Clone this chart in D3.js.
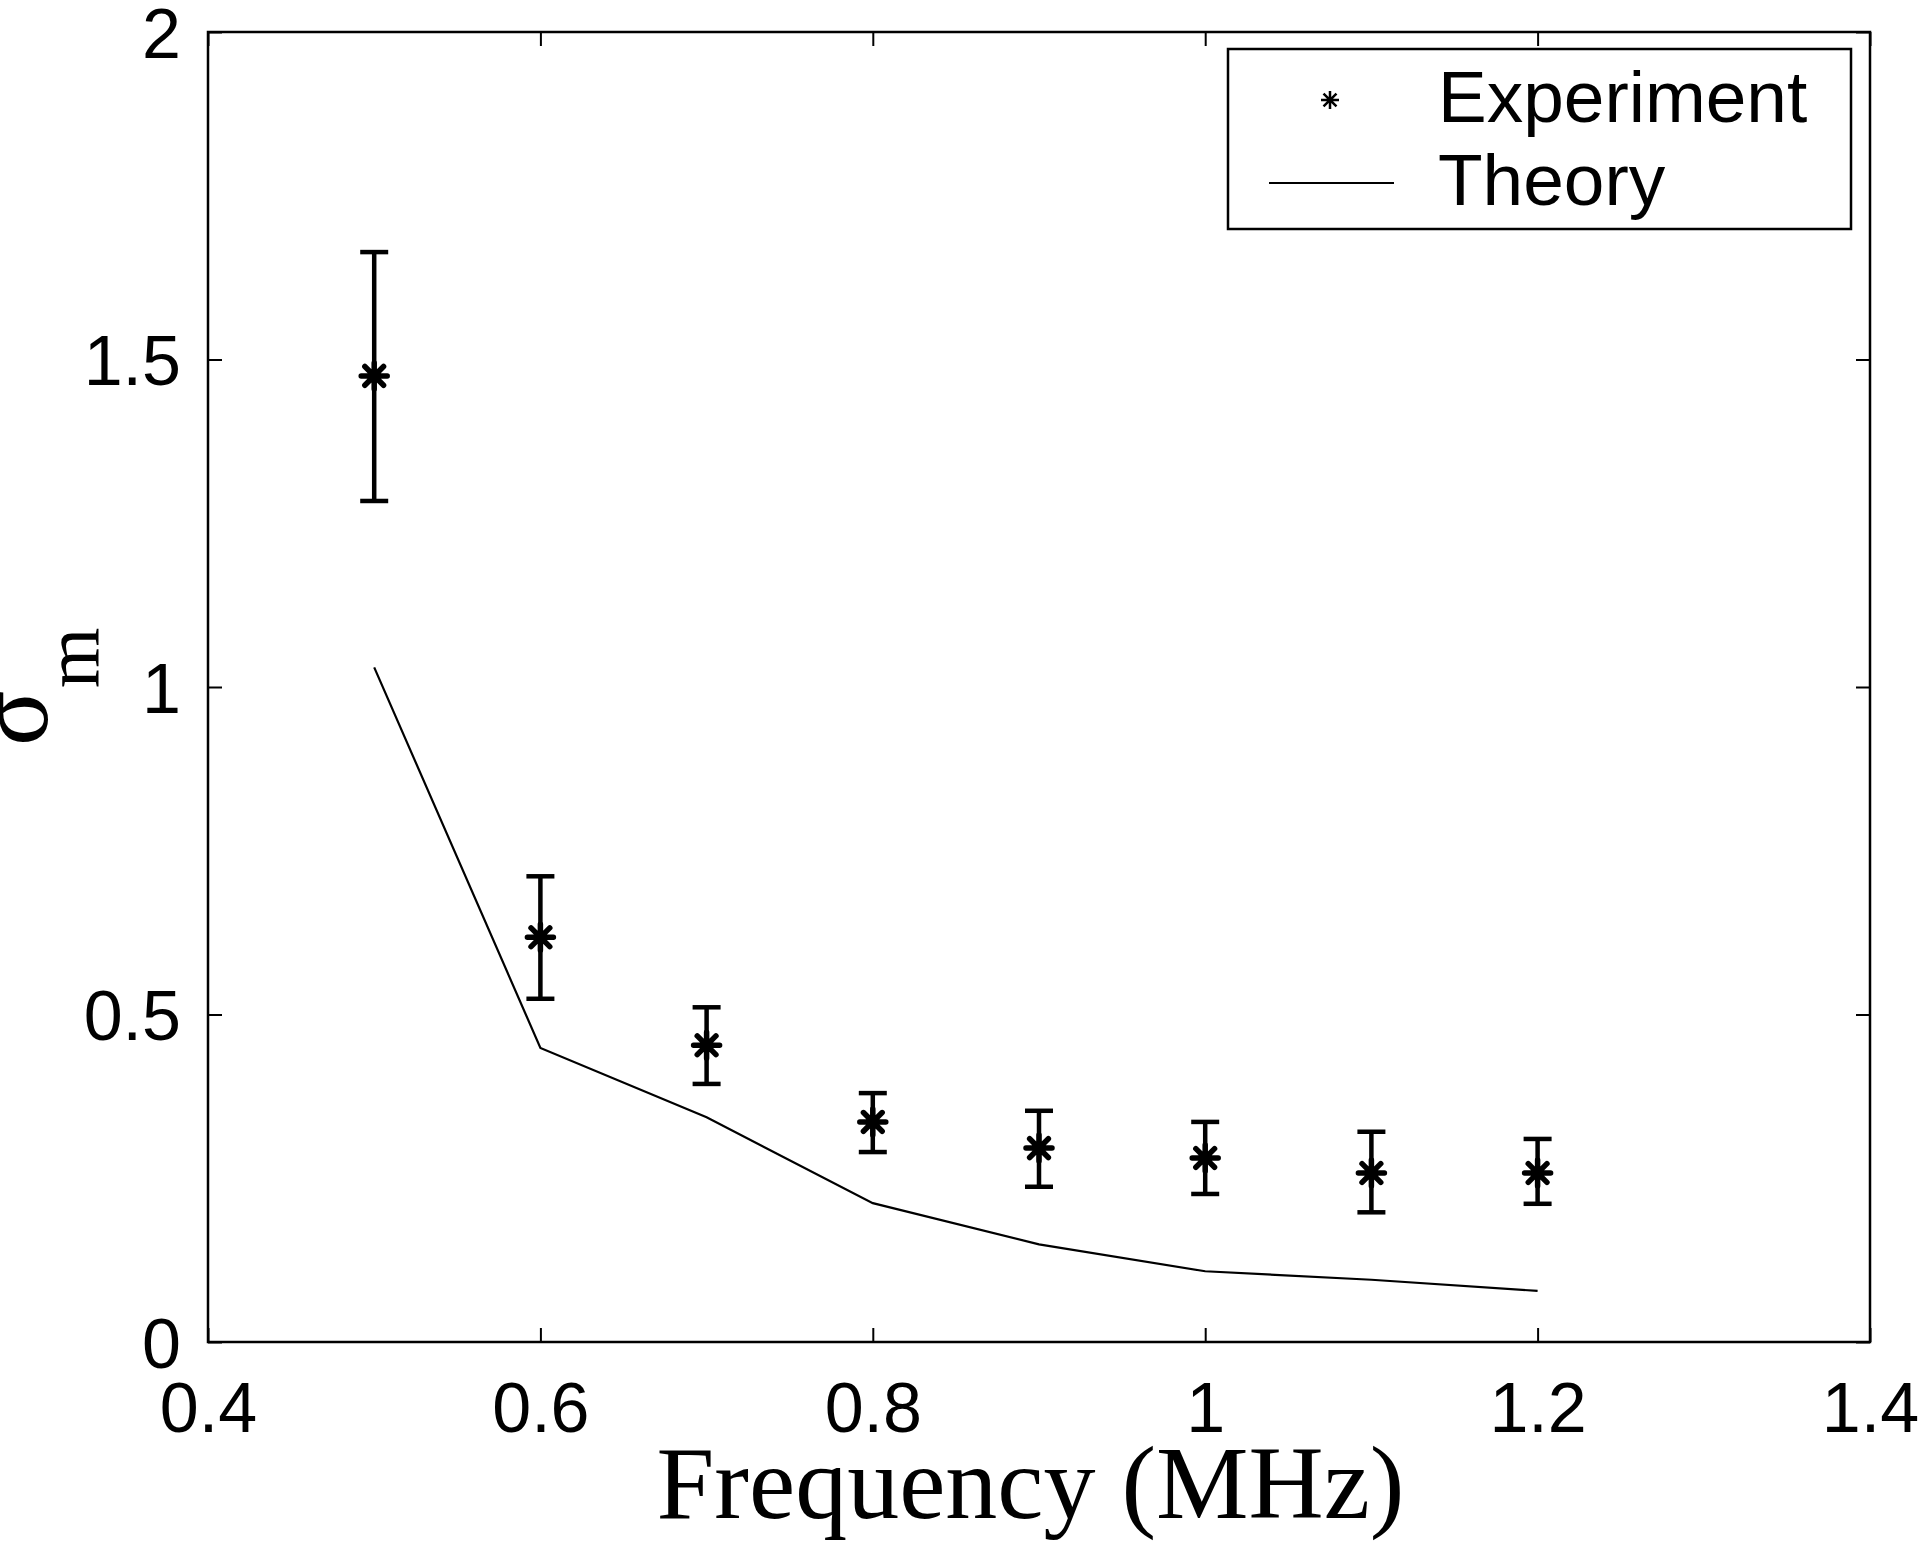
<!DOCTYPE html>
<html><head><meta charset="utf-8">
<script src="https://cdn.jsdelivr.net/npm/d3@7"></script>
<style>body{margin:0;background:#fff}svg{display:block}</style>
</head><body>
<script>
const frequency = [0.5, 0.6, 0.7, 0.8, 0.9, 1.0, 1.1, 1.2];
const expMean  = [1.475, 0.618, 0.453, 0.336, 0.296, 0.281, 0.258, 0.258];
const expUpper = [1.664, 0.711, 0.511, 0.380, 0.353, 0.336, 0.321, 0.310];
const expLower = [1.284, 0.524, 0.394, 0.290, 0.237, 0.226, 0.198, 0.211];
const theory   = [1.030, 0.449, 0.343, 0.212, 0.149, 0.108, 0.095, 0.078];
const xTicks = [0.4, 0.6, 0.8, 1.0, 1.2, 1.4];
const yTicks = [0, 0.5, 1, 1.5, 2];
const xTickLabels = ["0.4","0.6","0.8","1","1.2","1.4"];
const yTickLabels = ["0","0.5","1","1.5","2"];
const legendLabels = ["Experiment","Theory"];

const W = 1920, H = 1549;
const L = 208, R = 1870, T = 32, B = 1342;
const svg = d3.select("body").append("svg").attr("width", W).attr("height", H);
svg.append("rect").attr("width", W).attr("height", H).attr("fill", "#fff");

const x = d3.scaleLinear().domain([0.4, 1.4]).range([L, R]);
const y = d3.scaleLinear().domain([0, 2]).range([B, T]);
const sans = "'Liberation Sans', Arial, Helvetica, sans-serif";
const serif = "'Liberation Serif', 'Times New Roman', serif";
const tickLen = 14;

const gx = svg.append("g").attr("transform", `translate(0,${B})`)
  .call(d3.axisBottom(x).tickValues(xTicks).tickFormat((d,i)=>xTickLabels[i]).tickSizeInner(-tickLen).tickSizeOuter(0).tickPadding(tickLen+26));
const gxt = svg.append("g").attr("transform", `translate(0,${T})`)
  .call(d3.axisTop(x).tickValues(xTicks).tickFormat("").tickSizeInner(-tickLen).tickSizeOuter(0));
const gy = svg.append("g").attr("transform", `translate(${L},0)`)
  .call(d3.axisLeft(y).tickValues(yTicks).tickFormat((d,i)=>yTickLabels[i]).tickSizeInner(-tickLen).tickSizeOuter(0).tickPadding(tickLen+13));
const gyr = svg.append("g").attr("transform", `translate(${R},0)`)
  .call(d3.axisRight(y).tickValues(yTicks).tickFormat("").tickSizeInner(-tickLen).tickSizeOuter(0));
[gx,gxt,gy,gyr].forEach(g=>{
  g.select(".domain").remove();
  g.selectAll(".tick line").attr("stroke","#000").attr("stroke-width",2);
  g.selectAll("text").attr("font-family", sans).attr("font-size", 70).attr("fill","#000");
});
gy.selectAll("text").attr("dy","0.36em");
gx.selectAll("text").attr("dy","0.71em");

svg.append("rect").attr("x", L).attr("y", T).attr("width", R-L).attr("height", B-T)
  .attr("fill","none").attr("stroke","#000").attr("stroke-width",2.5);

const line = d3.line().x((d,i)=>x(frequency[i])).y(d=>y(d));
svg.append("path").datum(theory).attr("d", line).attr("fill","none")
  .attr("stroke","#000").attr("stroke-width",2.2);

const capW = 14;
const eb = svg.append("g").attr("stroke","#000").attr("stroke-width",4.5);
frequency.forEach((f,i)=>{
  const cx = x(f);
  eb.append("line").attr("x1",cx).attr("x2",cx).attr("y1",y(expUpper[i])).attr("y2",y(expLower[i]));
  eb.append("line").attr("x1",cx-capW).attr("x2",cx+capW).attr("y1",y(expUpper[i])).attr("y2",y(expUpper[i]));
  eb.append("line").attr("x1",cx-capW).attr("x2",cx+capW).attr("y1",y(expLower[i])).attr("y2",y(expLower[i]));
});

// MATLAB-style asterisk: plus + cross (size = half-width)
const matlabStar = {
  draw(ctx, size) {
    const r = size, d = r * 0.72;
    ctx.moveTo(-r, 0); ctx.lineTo(r, 0);
    ctx.moveTo(0, -r); ctx.lineTo(0, r);
    ctx.moveTo(-d, -d); ctx.lineTo(d, d);
    ctx.moveTo(-d, d); ctx.lineTo(d, -d);
  }
};
svg.append("g").selectAll("path").data(expMean).join("path")
  .attr("d", d3.symbol(matlabStar, 13)).attr("transform",(d,i)=>`translate(${x(frequency[i])},${y(d)})`)
  .attr("fill","none").attr("stroke","#000").attr("stroke-width",5.5).attr("stroke-linecap","round");

// legend
svg.append("rect").attr("x",1228).attr("y",49).attr("width",1851-1228).attr("height",229-49)
  .attr("fill","#fff").attr("stroke","#000").attr("stroke-width",2.5);
svg.append("path").attr("d", d3.symbol(matlabStar, 9)).attr("transform","translate(1330,100)")
  .attr("fill","none").attr("stroke","#000").attr("stroke-width",2.5);
svg.append("line").attr("x1",1269).attr("x2",1394).attr("y1",183).attr("y2",183)
  .attr("stroke","#000").attr("stroke-width",2.2);
svg.append("text").attr("x",1438).attr("y",122).text(legendLabels[0])
  .attr("font-family",sans).attr("font-size",73).attr("fill","#000");
svg.append("text").attr("x",1438).attr("y",205).text(legendLabels[1])
  .attr("font-family",sans).attr("font-size",73).attr("fill","#000");

svg.append("text").attr("x",(664+1397)/2).attr("y",1518).attr("text-anchor","middle")
  .attr("font-family",serif).attr("font-size",104).attr("fill","#000").text("Frequency (MHz)");
const yl = svg.append("g").attr("transform","translate(47,718) rotate(-90)");
yl.append("text").attr("x",0).attr("y",0).attr("text-anchor","middle")
  .attr("font-family",serif).attr("font-size",104).attr("fill","#000").text("σ");
yl.append("text").attr("x",60).attr("y",51).attr("text-anchor","middle")
  .attr("font-family",serif).attr("font-size",78).attr("fill","#000").text("m");
</script>
</body></html>
